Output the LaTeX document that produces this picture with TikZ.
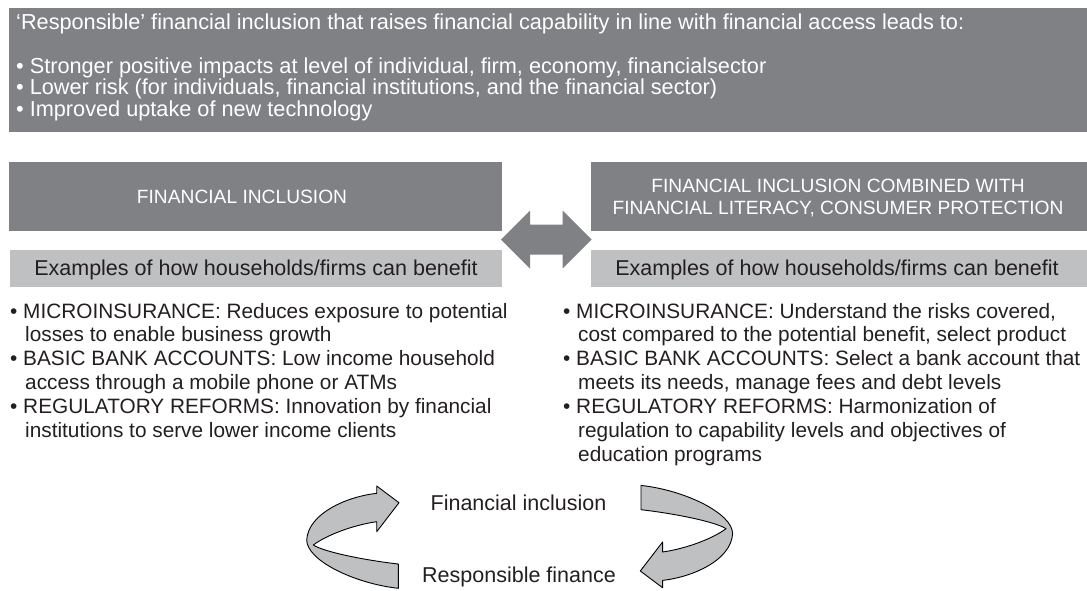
\documentclass[tikz,border=0pt]{standalone}
\usepackage{fontspec}
\setmainfont{Liberation Sans}
\definecolor{darkbox}{RGB}{128,129,133}
\definecolor{lightbox}{RGB}{191,192,194}
\definecolor{ink}{RGB}{35,31,32}
\tikzset{
  darkrect/.style={fill=darkbox, draw=none, inner sep=0pt, outer sep=0pt, anchor=north west},
  lightrect/.style={fill=lightbox, draw=none, inner sep=0pt, outer sep=0pt, anchor=north west},
  toptxt/.style={anchor=base west, inner sep=0pt, text=white, font=\fontsize{21.7}{26}\selectfont},
  headtxt/.style={anchor=base, inner sep=0pt, text=white, font=\fontsize{19.2}{22}\selectfont},
  subtxt/.style={anchor=base, inner sep=0pt, text=ink, font=\fontsize{21.5}{24}\selectfont},
  bodytxt/.style={anchor=base west, inner sep=0pt, text=ink, font=\fontsize{20.8}{24}\selectfont},
  labeltxt/.style={anchor=base, inner sep=0pt, text=ink, font=\fontsize{21.5}{24}\selectfont},
  ribbonstyle/.style={fill=lightbox, draw=black, line width=0.9pt, line join=round},
  dblarrow/.style={fill=darkbox, draw=none},
  ribbon/.pic={
    \draw[ribbonstyle] (45.5,51.1) -- (45.5,26.8)
      .. controls (10.5,22.8) and (-29.5,14.5) .. (-39.5,7.8)
      .. controls (-26.1,-2.2) and (0.5,-12.2) .. (23.9,-15.5)
      -- (23.9,-5.5) -- (46.2,-34.5) -- (23.9,-51.2) -- (23.9,-43.9)
      .. controls (-6.1,-40.5) and (-44.5,-23.9) .. (-46.1,2.8)
      .. controls (-46.1,22.8) and (0.5,46.1) .. (45.5,51.1) -- cycle;
  }
}
\begin{document}
\begin{tikzpicture}[x=1pt,y=-1pt]
\useasboundingbox (0,0) rectangle (1087,590);

% top box
\node[darkrect, minimum width=1078pt, minimum height=124pt] (top) at (9,8) {};
\node[toptxt] (t0) at (16,29) {`Responsible' financial inclusion that raises financial capability in line with financial access leads to:};
\node[toptxt] (t1) at (16,73) {• Stronger positive impacts at level of individual, firm, economy, financialsector};
\node[toptxt] (t2) at (16,94.5) {• Lower risk (for individuals, financial institutions, and the financial sector)};
\node[toptxt] (t3) at (16,116) {• Improved uptake of new technology};

% headers
\node[darkrect, minimum width=493pt, minimum height=69pt] (lh) at (9,162) {};
\node[headtxt] (lht) at (242,203.5) {FINANCIAL INCLUSION};
\node[darkrect, minimum width=496pt, minimum height=69pt] (rh) at (591,162) {};
\node[headtxt] (rht1) at (838,192) {FINANCIAL INCLUSION COMBINED WITH};
\node[headtxt] (rht2) at (838,214) {FINANCIAL LITERACY, CONSUMER PROTECTION};

% double arrow between the columns
\fill[dblarrow] (501,239.5) -- (530,210.5) -- (530,224.5) -- (562.5,224.5) -- (562.5,210.5)
  -- (591.5,239.5) -- (562.5,268.5) -- (562.5,254.5) -- (530,254.5) -- (530,268.5) -- cycle;

% subheaders
\node[lightrect, minimum width=492pt, minimum height=37pt] (ls) at (10,250) {};
\node[subtxt] (lst) at (256,275.5) {Examples of how households/firms can benefit};
\node[lightrect, minimum width=496pt, minimum height=37pt] (rs) at (591,250) {};
\node[subtxt] (rst) at (837,275.5) {Examples of how households/firms can benefit};

% left bullets
\node[bodytxt] (l1) at (10,318) {• MICROINSURANCE: Reduces exposure to potential};
\node[bodytxt] (l2) at (25,341.9) {losses to enable business growth};
\node[bodytxt] (l3) at (10,365.8) {• BASIC BANK ACCOUNTS: Low income household};
\node[bodytxt] (l4) at (25,389.7) {access through a mobile phone or ATMs};
\node[bodytxt] (l5) at (10,413.6) {• REGULATORY REFORMS: Innovation by financial};
\node[bodytxt] (l6) at (25,437.5) {institutions to serve lower income clients};

% right bullets
\node[bodytxt] (r1) at (563,318) {• MICROINSURANCE: Understand the risks covered,};
\node[bodytxt] (r2) at (578,341.9) {cost compared to the potential benefit, select product};
\node[bodytxt] (r3) at (563,365.8) {• BASIC BANK ACCOUNTS: Select a bank account that};
\node[bodytxt] (r4) at (578,389.7) {meets its needs, manage fees and debt levels};
\node[bodytxt] (r5) at (563,413.6) {• REGULATORY REFORMS: Harmonization of};
\node[bodytxt] (r6) at (578,437.5) {regulation to capability levels and objectives of};
\node[bodytxt] (r7) at (578,461.4) {education programs};

% cycle at the bottom
\pic at (352.8,537.2) {ribbon};
\pic[rotate=180] at (686.5,536.5) {ribbon};
\node[labeltxt] (fi) at (518.5,510.5) {Financial inclusion};
\node[labeltxt] (rf) at (519,582) {Responsible finance};
\end{tikzpicture}
\end{document}
